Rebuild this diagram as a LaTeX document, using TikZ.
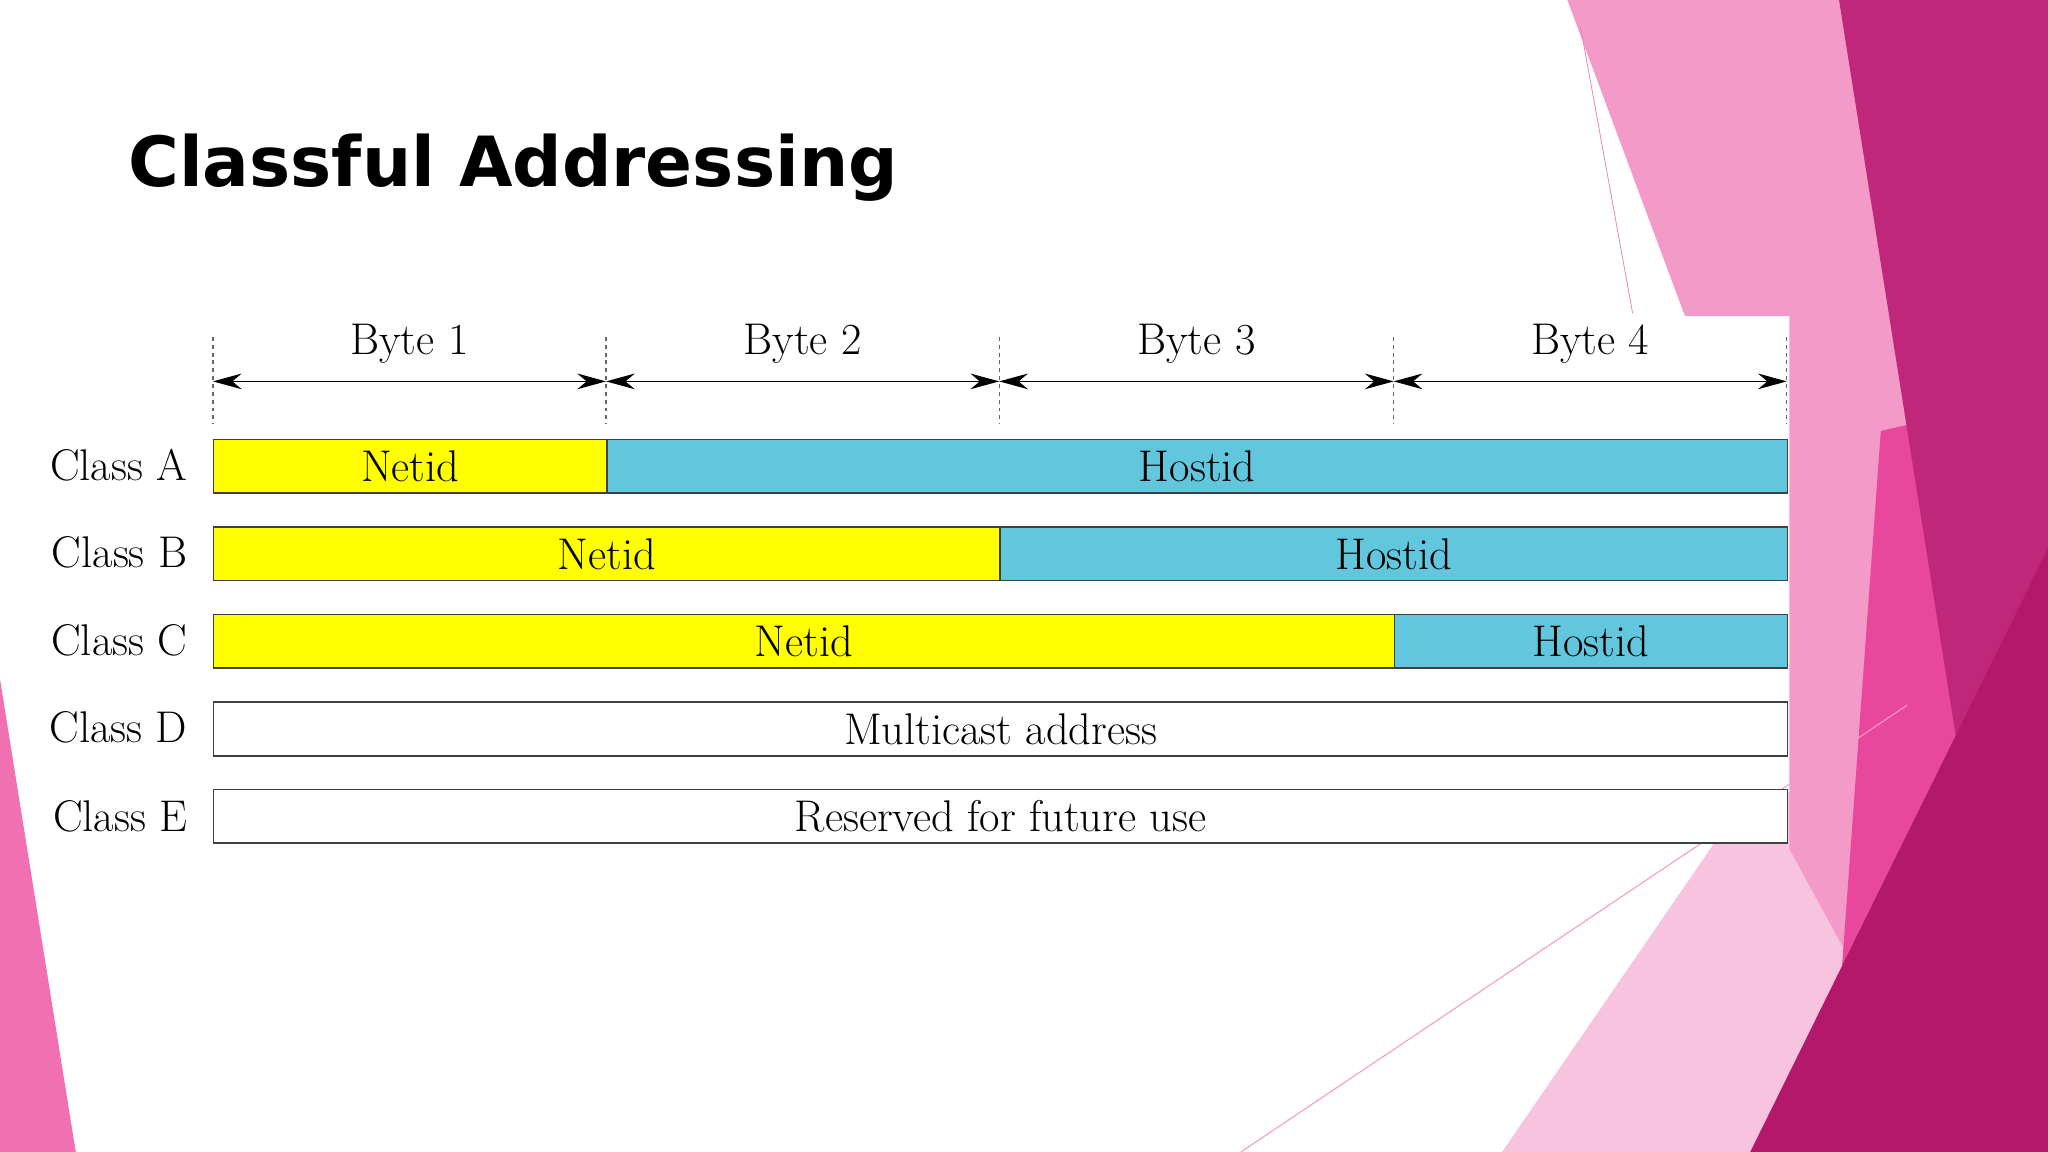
\documentclass[tikz,border=0pt]{standalone}
\usepackage{fontspec}
\newfontfamily\titlefont{DejaVu Sans}
\usetikzlibrary{arrows.meta}
\definecolor{ylw}{HTML}{FFFF00}
\definecolor{cyn}{HTML}{62C6DC}
\definecolor{pk1}{HTML}{F39AC9}
\definecolor{pk2}{HTML}{F7C3DE}
\definecolor{mag}{HTML}{C0267A}
\definecolor{mag2}{HTML}{B3186A}
\definecolor{hot}{HTML}{E9479B}
\definecolor{pk3}{HTML}{F070B1}
\begin{document}
\begin{tikzpicture}[x=1pt,y=-1pt,
  field/.style={draw=black!75,line width=1.2pt,minimum height=41pt,inner sep=0pt,anchor=north west,font=\fontsize{34}{38}\selectfont},
  lbl/.style={anchor=east,font=\fontsize{34}{38}\selectfont},
  bytel/.style={font=\fontsize{34}{38}\selectfont},
  dim/.style={line width=1pt,{Stealth[length=22pt,width=12pt]}-{Stealth[length=22pt,width=12pt]}},
  guide/.style={dashed,line width=1pt,black!60}]
\useasboundingbox (0,0) rectangle (1568,882);
\fill[white] (0,0) rectangle (1568,882);
% background decoration
\fill[pk2] (1330,620) -- (1568,540) -- (1568,882) -- (1150,882) -- cycle;
\fill[pk1] (1200,0) -- (1568,0) -- (1568,700) -- (1430,760) -- (1370,650) -- (1370,242) -- (1290,242) -- cycle;
\fill[hot] (1440,330) -- (1568,300) -- (1568,882) -- (1400,882) -- cycle;
\fill[mag] (1408,0) -- (1568,0) -- (1568,882) -- (1520,882) -- (1500,580) -- cycle;
\fill[mag2] (1340,882) -- (1568,420) -- (1568,882) -- cycle;
\fill[pk3] (0,520) -- (58,882) -- (0,882) -- cycle;
\draw[pk1,line width=0.8pt] (950,882) -- (1460,540);
\draw[pk1!80!mag,line width=0.6pt] (1210,20) -- (1250,240);
% title
\node[anchor=base west,inner sep=0pt,font=\titlefont\bfseries\fontsize{53}{60}\selectfont] (title) at (98,143) {Classful Addressing};
% byte scale
\foreach \i/\x in {0/163,1/464,2/765,3/1067,4/1368}{
  \coordinate (t\i) at (\x,258);
  \coordinate (b\i) at (\x,325);
  \coordinate (m\i) at (\x,292);
  \draw[guide] (t\i) -- (b\i);
}
\foreach \i/\j/\n in {0/1/1,1/2/2,2/3/3,3/4/4}{
  \draw[dim] (m\i) -- (m\j);
  \path (m\i) -- (m\j) node[midway,above=10pt,bytel] (byte\n) {Byte \n};
}
% rows
\node[field,fill=ylw,minimum width=301pt] (an) at (163,336) {Netid};
\node[field,fill=cyn,minimum width=904pt] (ah) at (464,336) {Hostid};
\node[field,fill=ylw,minimum width=602pt] (bn) at (163,403) {Netid};
\node[field,fill=cyn,minimum width=603pt] (bh) at (765,403) {Hostid};
\node[field,fill=ylw,minimum width=904pt] (cn) at (163,470) {Netid};
\node[field,fill=cyn,minimum width=301pt] (ch) at (1067,470) {Hostid};
\node[field,fill=white,minimum width=1205pt] (dm) at (163,537) {Multicast address};
\node[field,fill=white,minimum width=1205pt] (er) at (163,604) {Reserved for future use};
\node[lbl] (la) at (147,356) {Class A};
\node[lbl] (lb) at (147,423) {Class B};
\node[lbl] (lc) at (147,490) {Class C};
\node[lbl] (ld) at (147,557) {Class D};
\node[lbl] (le) at (147,625) {Class E};
\end{tikzpicture}
\end{document}
